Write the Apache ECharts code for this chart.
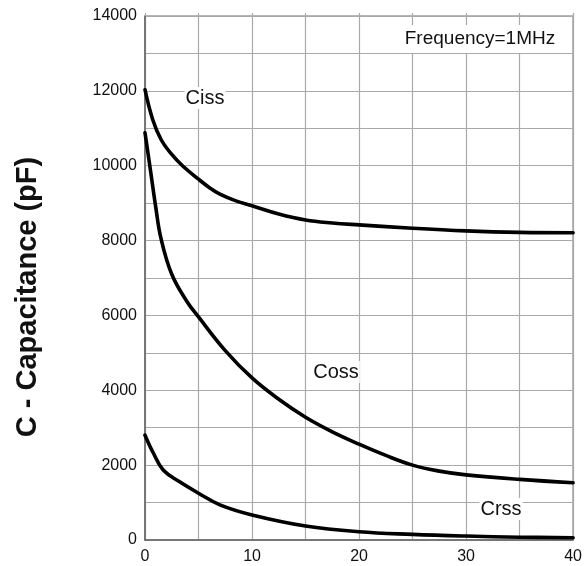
<!DOCTYPE html>
<html>
<head>
<meta charset="utf-8">
<script src="https://cdn.jsdelivr.net/npm/echarts@6/dist/echarts.min.js"></script>
<style>
  html, body { margin: 0; padding: 0; background: #fff; }
  #chart { width: 585px; height: 566px; }
</style>
</head>
<body>
<div id="chart"></div>
<script>
// Drain-source voltage (V) sample points and capacitance (pF) for each curve
const cissV = [0, 0.7, 1.5, 2.5, 3.5, 5, 6, 7, 8.5, 10, 12.5, 15, 17.5, 20, 25, 30, 35, 40];
const cissC = [12030, 11250, 10700, 10300, 10000, 9640, 9420, 9240, 9060, 8930, 8710, 8550, 8470, 8420, 8330, 8260, 8220, 8210];

const cossV = [0, 0.5, 1, 1.5, 2.5, 3.9, 5, 7.5, 10, 12.5, 15, 17.5, 20, 22.5, 25, 27.5, 30, 35, 40];
const cossC = [10880, 9900, 8900, 8050, 7100, 6380, 5960, 5060, 4330, 3760, 3280, 2890, 2560, 2260, 2000, 1840, 1740, 1620, 1530];

const crssV = [0, 0.8, 1.7, 3.2, 5, 7, 10, 15, 20, 25, 30, 35, 40];
const crssC = [2800, 2310, 1870, 1560, 1250, 940, 670, 375, 220, 150, 105, 75, 60];

// Axis ranges and tick steps
const xMin = 0, xMax = 40, xGrid = 5, xLabelStep = 10;
const yMin = 0, yMax = 14000, yGrid = 1000, yLabelStep = 2000;

const yTitle = 'C - Capacitance (pF)';
const note = 'Frequency=1MHz';
const curveNames = ['Ciss', 'Coss', 'Crss'];

const pairs = (xs, ys) => xs.map((x, i) => [x, ys[i]]);

const chart = echarts.init(document.getElementById('chart'), null, { renderer: 'canvas' });

const lineSeries = (name, xs, ys) => ({
  name,
  type: 'line',
  data: pairs(xs, ys),
  smooth: 0.4,
  showSymbol: false,
  lineStyle: { color: '#000', width: 3.6, cap: 'round', join: 'round' },
  z: 3
});

const labelStyle = {
  fontFamily: 'Liberation Sans, Arial, sans-serif',
  fill: '#111',
  align: 'center',
  verticalAlign: 'middle',
  backgroundColor: '#fff'
};

chart.setOption({
  animation: false,
  backgroundColor: '#fff',
  grid: { left: 145, top: 16, right: 8, bottom: 26, show: true, borderColor: '#6e6e6e', borderWidth: 1.2 },
  xAxis: [{
    type: 'value',
    min: xMin, max: xMax, interval: xGrid,
    axisLine: { show: true, lineStyle: { color: '#666', width: 1.5 } },
    axisTick: { show: false },
    splitLine: { show: true, lineStyle: { color: '#aaaaaa', width: 1.2 } },
    axisLabel: {
      margin: 9,
      fontSize: 16,
      color: '#111',
      fontFamily: 'Liberation Sans, Arial, sans-serif',
      formatter: v => (v % xLabelStep === 0 ? String(v) : '')
    }
  }, {
    type: 'value',
    position: 'top',
    min: xMin, max: xMax, interval: xGrid,
    axisLine: { show: false },
    axisTick: { show: true, length: 3, lineStyle: { color: '#aaaaaa', width: 1.2 } },
    axisLabel: { show: false },
    splitLine: { show: false }
  }],
  yAxis: {
    type: 'value',
    min: yMin, max: yMax, interval: yGrid,
    axisLine: { show: true, lineStyle: { color: '#666', width: 1.5 } },
    axisTick: { show: false },
    splitLine: { show: true, lineStyle: { color: '#aaaaaa', width: 1.2 } },
    axisLabel: {
      margin: 8,
      fontSize: 16,
      color: '#111',
      fontFamily: 'Liberation Sans, Arial, sans-serif',
      formatter: v => (v % yLabelStep === 0 ? String(v) : '')
    }
  },
  series: [
    lineSeries(curveNames[0], cissV, cissC),
    lineSeries(curveNames[1], cossV, cossC),
    lineSeries(curveNames[2], crssV, crssC)
  ],
  graphic: [
    {
      type: 'text', x: 28, y: 297, rotation: Math.PI / 2,
      style: { text: yTitle, fontFamily: 'Liberation Sans, Arial, sans-serif', fontWeight: 'bold', fontSize: 29, fill: '#111', align: 'center', verticalAlign: 'middle' }
    },
    {
      type: 'text', x: 480, y: 39, z: 10,
      style: Object.assign({}, labelStyle, { text: note, fontSize: 19, padding: [5, 7, 4, 7] })
    },
    {
      type: 'text', x: 205, y: 98, z: 10,
      style: Object.assign({}, labelStyle, { text: curveNames[0], fontSize: 20, padding: [1, 1] })
    },
    {
      type: 'text', x: 336, y: 372, z: 10,
      style: Object.assign({}, labelStyle, { text: curveNames[1], fontSize: 20, padding: [1, 1] })
    },
    {
      type: 'text', x: 501, y: 509, z: 10,
      style: Object.assign({}, labelStyle, { text: curveNames[2], fontSize: 20, padding: [1, 1] })
    }
  ]
});
</script>
</body>
</html>
